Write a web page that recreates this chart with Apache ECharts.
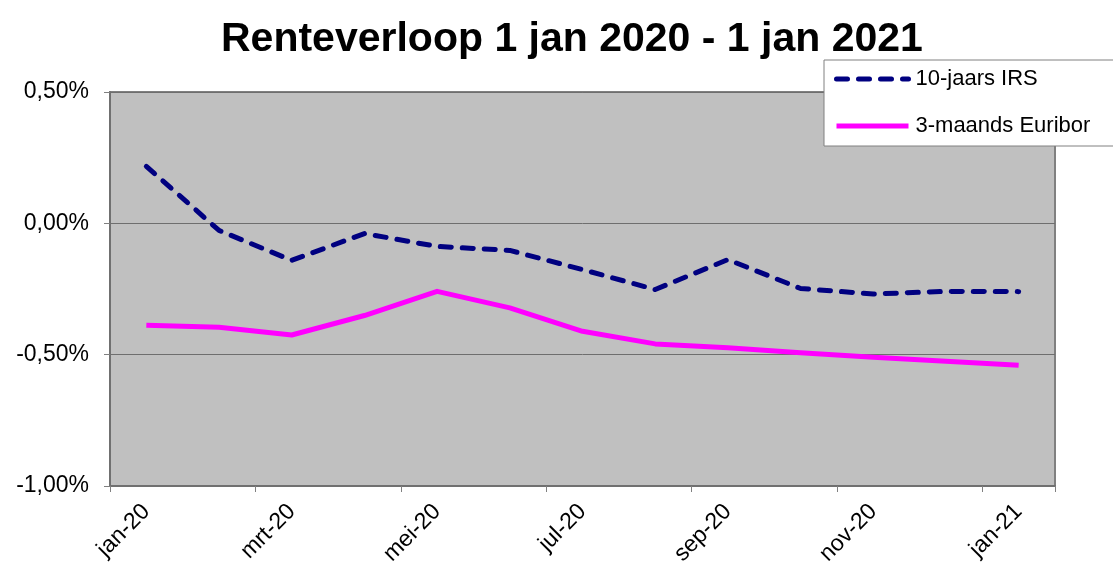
<!DOCTYPE html>
<html>
<head>
<meta charset="utf-8">
<script src="https://cdn.jsdelivr.net/npm/echarts@6/dist/echarts.min.js"></script>
<style>
html,body{margin:0;padding:0;background:#fff;}
#chart{width:1113px;height:563px;}
</style>
</head>
<body>
<div id="chart"></div>
<script>
const months = ['jan-20','feb-20','mrt-20','apr-20','mei-20','jun-20','jul-20','aug-20','sep-20','okt-20','nov-20','dec-20','jan-21'];
const irs10 = [0.217, -0.027, -0.141, -0.039, -0.088, -0.103, -0.176, -0.252, -0.138, -0.248, -0.269, -0.259, -0.260];
const euribor3 = [-0.388, -0.396, -0.425, -0.351, -0.259, -0.322, -0.411, -0.459, -0.474, -0.493, -0.510, -0.525, -0.540];

const font = 'Liberation Sans, Arial, sans-serif';
const chart = echarts.init(document.getElementById('chart'), null, {renderer: 'canvas'});
chart.setOption({
  animation: false,
  backgroundColor: '#ffffff',
  title: {
    text: 'Renteverloop 1 jan 2020 - 1 jan 2021',
    left: 216,
    top: 14,
    textStyle: {fontFamily: font, fontWeight: 'bold', fontSize: 41, color: '#000'}
  },
  legend: {
    orient: 'vertical',
    left: 824,
    top: 60,
    padding: [8, 80, 9, 10],
    itemGap: 25,
    itemWidth: 72,
    itemHeight: 20,
    backgroundColor: '#ffffff',
    borderColor: '#808080',
    borderWidth: 1,
    borderRadius: 0,
    itemStyle: {opacity: 0},
    lineStyle: {width: 5},
    textStyle: {fontFamily: font, fontSize: 22, color: '#000', padding: [0,0,0,2]},
    data: ['10-jaars IRS', '3-maands Euribor']
  },
  grid: {
    left: 110, right: 58, top: 92, bottom: 77,
    containLabel: false,
    outerBoundsMode: 'none',
    show: true,
    backgroundColor: '#C0C0C0',
    borderColor: '#808080',
    borderWidth: 2
  },
  xAxis: {
    type: 'category',
    data: months,
    boundaryGap: true,
    axisLine: {onZero: false, lineStyle: {color: '#707070', width: 2}},
    axisTick: {show: true, interval: 1, length: 6, lineStyle: {color: '#808080', width: 1}},
    axisLabel: {interval: 1, rotate: 45, fontFamily: font, fontSize: 23, color: '#000', margin: 22},
    splitLine: {show: false}
  },
  yAxis: {
    type: 'value',
    min: -1.0, max: 0.5, interval: 0.5,
    axisLine: {show: true, lineStyle: {color: '#707070', width: 2}},
    axisTick: {show: true, length: 6, lineStyle: {color: '#808080', width: 1}},
    axisLabel: {
      fontFamily: font, fontSize: 23, color: '#000', margin: 21,
      formatter: v => v.toFixed(2).replace('.', ',') + '%'
    },
    splitLine: {show: true, lineStyle: {color: '#6e6e6e', width: 1}}
  },
  series: [
    {
      name: '10-jaars IRS',
      type: 'line',
      data: irs10,
      symbol: 'none',
      color: '#000080',
      lineStyle: {color: '#000080', width: 5, type: [11, 11], cap: 'round', join: 'round'}
    },
    {
      name: '3-maands Euribor',
      type: 'line',
      data: euribor3,
      symbol: 'none',
      color: '#FF00FF',
      lineStyle: {color: '#FF00FF', width: 5, join: 'round'}
    }
  ]
});
</script>
</body>
</html>
